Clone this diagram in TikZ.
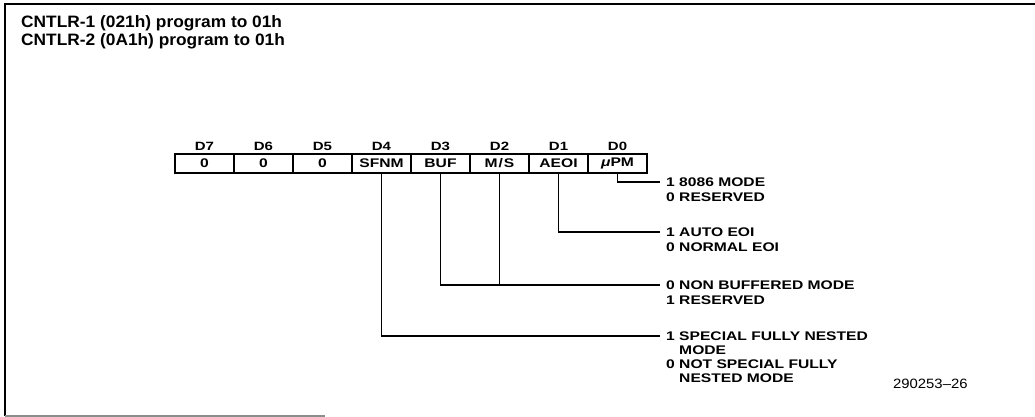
\documentclass[tikz,border=0pt]{standalone}
\usepackage{fontspec}
\setmainfont{Liberation Sans}
\newfontfamily\intel[FakeStretch=1.25]{Liberation Sans}
\newfontfamily\ttlfont[FakeStretch=1.05]{Liberation Sans}
\newfontfamily\numfont[FakeStretch=1.1]{Liberation Sans}
\begin{document}
\begin{tikzpicture}[x=1pt,y=-1pt,
  cell/.style={draw,line width=2pt,minimum width=59pt,minimum height=19pt,inner sep=0pt,
    font=\intel\bfseries\fontsize{12.5}{14}\selectfont},
  bitlbl/.style={inner sep=0pt,font=\intel\bfseries\fontsize{12}{14}\selectfont},
  opt/.style={anchor=west,inner sep=0pt,font=\intel\bfseries\fontsize{12.5}{14}\selectfont},
  ttl/.style={anchor=west,inner sep=0pt,font=\ttlfont\bfseries\fontsize{16.5}{18}\selectfont},
  wire/.style={line width=1.8pt}]
\useasboundingbox (0,0) rectangle (1035,417);
% frame
\draw[line width=2pt] (1035,4) -- (5,4) -- (5,416);
\draw[line width=1.5pt,black!45] (5,416) -- (325,416);
% title
\node[ttl] (t1) at (21,23) {CNTLR-1 (021h) program to 01h};
\node[ttl] (t2) at (21,41) {CNTLR-2 (0A1h) program to 01h};
% register cells
\foreach \i/\t/\b in {0/0/D7,1/0/D6,2/0/D5,3/SFNM/D4,4/BUF/D3,5/{M\kern1pt/\kern1pt S}/D2,6/AEOI/D1,7/{\itshape μ\upshape PM}/D0}{
  \node[cell] (c\i) at (175+29.5+59*\i,163.5) {\t};
  \node[bitlbl] (b\i) at (175+29.5+59*\i,146) {\b};
}
% option labels
\node[opt] (l0a) at (666,182) {1 8086 MODE};
\node[opt] (l0b) at (666,197) {0 RESERVED};
\node[opt] (l1a) at (666,232) {1 AUTO EOI};
\node[opt] (l1b) at (666,247) {0 NORMAL EOI};
\node[opt] (l2a) at (666,285) {0 NON BUFFERED MODE};
\node[opt] (l2b) at (666,300) {1 RESERVED};
\node[opt] (l3a) at (666,336) {1 SPECIAL FULLY NESTED};
\node[opt] (l3b) at (666,350) {\phantom{1 }MODE};
\node[opt] (l3c) at (666,364) {0 NOT SPECIAL FULLY};
\node[opt] (l3d) at (666,378) {\phantom{0 }NESTED MODE};
% connectors
\draw[wire] (c7.south) |- ([xshift=-6pt]l0a.west);
\draw[wire] (c6.south) |- ([xshift=-6pt]l1a.west);
\draw[wire] (c4.south) |- ([xshift=-6pt]l2a.west);
\draw[wire] (c5.south) -- (c5.south |- l2a.west);
\draw[wire] (c3.south) |- ([xshift=-6pt]l3a.west);
% figure number
\node[anchor=west,inner sep=0pt,font=\numfont\fontsize{13.5}{15}\selectfont] (fig) at (893,384) {290253\textendash 26};
\end{tikzpicture}
\end{document}
